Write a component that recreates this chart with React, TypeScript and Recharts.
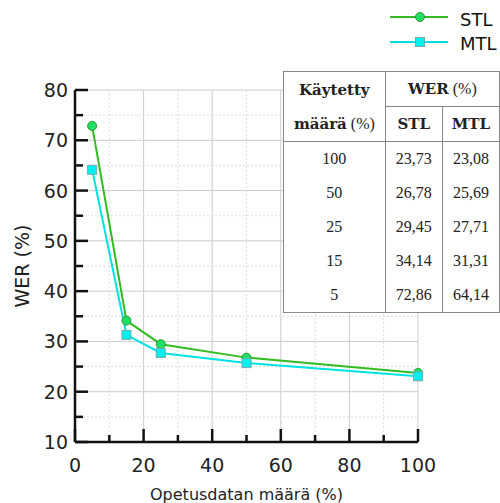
import React from 'react';
import { LineChart, Line, XAxis, YAxis, CartesianGrid } from 'recharts';

const amounts = [5, 15, 25, 50, 100];
const stlWer = [72.86, 34.14, 29.45, 26.78, 23.73];
const mtlWer = [64.14, 31.31, 27.71, 25.69, 23.08];
const xTicks = [0, 10, 20, 30, 40, 50, 60, 70, 80, 90, 100];
const yTicks = [10, 15, 20, 25, 30, 35, 40, 45, 50, 55, 60, 65, 70, 75, 80];
const xMajor = [0, 20, 40, 60, 80, 100];
const xMinor = [10, 30, 50, 70, 90];
const yMajor = [10, 20, 30, 40, 50, 60, 70, 80];
const yMinor = [15, 25, 35, 45, 55, 65, 75];

const data = amounts.map((a, i) => ({ amount: a, STL: stlWer[i], MTL: mtlWer[i] }));

const STL_LINE = '#33bb22';
const STL_FILL = '#22dd66';
const MTL_LINE = '#00e2e2';
const MTL_FILL = '#00f0f0';
const TM = 6;
const sans = 'DejaVu Sans';

const fmt = (v: number) => v.toFixed(2).replace('.', ',');

const YTick = (props: any) => {
  const { x, y, payload } = props;
  const v = payload.value;
  const major = v % 10 === 0;
  const ax = x + TM;
  return (
    <g>
      <line x1={ax} x2={ax + (major ? 13 : 8)} y1={y} y2={y} stroke="#111" strokeWidth={2.5} />
      {major && (
        <text x={x - 1} y={y} textAnchor="end" dominantBaseline="central" fontSize={19} fontFamily={sans} fill="#222">
          {v}
        </text>
      )}
    </g>
  );
};

const XTick = (props: any) => {
  const { x, y, payload } = props;
  const v = payload.value;
  const major = v % 20 === 0;
  const ay = y - TM;
  return (
    <g>
      <line x1={x} x2={x} y1={ay} y2={ay - (major ? 13 : 7)} stroke="#111" strokeWidth={2.5} />
      {major && (
        <text x={x} y={y + 17} textAnchor="middle" dominantBaseline="central" fontSize={19} fontFamily={sans} fill="#222">
          {v}
        </text>
      )}
    </g>
  );
};

const Square = (props: any) => {
  const { cx, cy, index } = props;
  return <rect key={'m' + index} x={cx - 4.5} y={cy - 4.5} width={9} height={9} fill={MTL_FILL} stroke="#7aa" strokeWidth={1} />;
};

const Dot = (props: any) => {
  const { cx, cy, index } = props;
  return <circle key={'s' + index} cx={cx} cy={cy} r={4.5} fill={STL_FILL} stroke="#2a9a2a" strokeWidth={1} />;
};

const LegendBox = () => (
  <svg width={120} height={56} style={{ position: 'absolute', left: 380, top: 0 }}>
    <line x1={10} x2={68} y1={17} y2={17} stroke={STL_LINE} strokeWidth={2} />
    <circle cx={40} cy={17} r={4.5} fill={STL_FILL} stroke="#2a9a2a" />
    <text x={80} y={19} dominantBaseline="central" fontSize={18} fontFamily={sans} fill="#111">STL</text>
    <line x1={10} x2={68} y1={42} y2={42} stroke={MTL_LINE} strokeWidth={2} />
    <rect x={35.5} y={37.5} width={9} height={9} fill={MTL_FILL} stroke="#7aa" />
    <text x={80} y={43} dominantBaseline="central" fontSize={18} fontFamily={sans} fill="#111">MTL</text>
  </svg>
);

const cell: React.CSSProperties = { border: '1px solid #888', padding: 0, textAlign: 'center', height: 34 };
const hb: React.CSSProperties = { fontFamily: 'DejaVu Serif', fontWeight: 'bold', fontSize: 15 };

const WerTable = () => {
  const rowBorder = (i: number): React.CSSProperties => ({
    ...cell,
    borderTop: i === amounts.length - 1 ? '1px solid #888' : 'none',
    borderBottom: i === 0 ? '1px solid #888' : 'none',
  });
  return (
    <table
      style={{
        position: 'absolute',
        left: 283,
        top: 71,
        width: 217,
        borderCollapse: 'collapse',
        background: '#fff',
        fontFamily: 'Liberation Serif',
        fontSize: 16,
        color: '#222',
      }}
    >
      <tbody>
        <tr>
          <td rowSpan={2} style={{ ...cell, width: 102, lineHeight: '34px' }}>
            <span style={hb}>Käytetty</span>
            <br />
            <span style={hb}>määrä</span> (%)
          </td>
          <td colSpan={2} style={cell}>
            <span style={hb}>WER</span> (%)
          </td>
        </tr>
        <tr>
          <td style={{ ...cell, width: 57 }}><span style={hb}>STL</span></td>
          <td style={{ ...cell, width: 57 }}><span style={hb}>MTL</span></td>
        </tr>
        {amounts
          .map((a, i) => i)
          .reverse()
          .map((i) => (
            <tr key={i}>
              <td style={rowBorder(i)}>{amounts[i]}</td>
              <td style={rowBorder(i)}>{fmt(stlWer[i])}</td>
              <td style={rowBorder(i)}>{fmt(mtlWer[i])}</td>
            </tr>
          ))}
      </tbody>
    </table>
  );
};

export default function App() {
  return (
    <div style={{ position: 'absolute', left: 0, top: 0, width: 500, height: 503, background: '#fff' }}>
      <LineChart width={500} height={503} data={data} margin={{ top: 90, right: 82, bottom: 0, left: 0 }}>
        <CartesianGrid stroke="#ccc" strokeWidth={1} verticalValues={xMajor} horizontalValues={yMajor} />
        <CartesianGrid stroke="#ddd" strokeWidth={1} strokeDasharray="2 2" verticalValues={xMinor} horizontalValues={yMinor} />
        <XAxis
          dataKey="amount"
          type="number"
          domain={[0, 100]}
          ticks={xTicks}
          interval={0}
          height={61}
          tickSize={0}
          tickMargin={TM}
          tickLine={false}
          axisLine={{ stroke: '#111', strokeWidth: 2.5 }}
          tick={<XTick />}
          label={{ value: 'Opetusdatan määrä (%)', position: 'insideBottom', offset: 3, fontSize: 16, fontFamily: sans, fill: '#222' }}
        />
        <YAxis
          type="number"
          domain={[10, 80]}
          ticks={yTicks}
          interval={0}
          width={75}
          tickSize={0}
          tickMargin={TM}
          tickLine={false}
          axisLine={{ stroke: '#111', strokeWidth: 2.5 }}
          tick={<YTick />}
          label={{ value: 'WER (%)', angle: -90, position: 'insideLeft', offset: 22, fontSize: 19, fontFamily: sans, fill: '#222', style: { textAnchor: 'middle' } }}
        />
        <Line dataKey="STL" stroke={STL_LINE} strokeWidth={2} dot={<Dot />} isAnimationActive={false} />
        <Line dataKey="MTL" stroke={MTL_LINE} strokeWidth={2} dot={<Square />} isAnimationActive={false} />
      </LineChart>
      <LegendBox />
      <WerTable />
    </div>
  );
}
